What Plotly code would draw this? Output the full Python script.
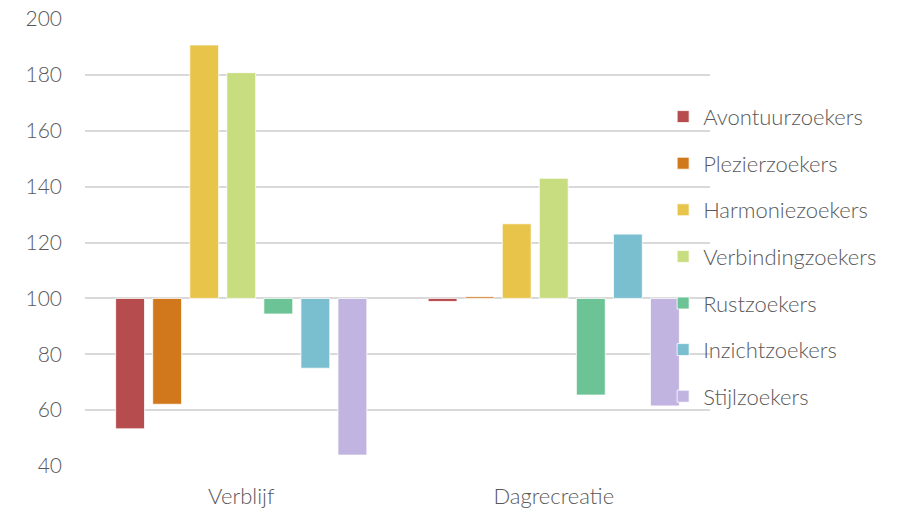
import plotly.graph_objects as go

categories = ["Verblijf", "Dagrecreatie"]
segments = ["Avontuurzoekers", "Plezierzoekers", "Harmoniezoekers", "Verbindingzoekers",
            "Rustzoekers", "Inzichtzoekers", "Stijlzoekers"]
verblijf = [53.3, 62.1, 190.7, 180.8, 94.4, 75.0, 43.9]
dagrecreatie = [98.9, 100.6, 126.7, 143.0, 65.4, 123.0, 61.5]
colors = ["#b64c4e", "#d2781c", "#e8c44a", "#c8dc80", "#6cc396", "#7abfd0", "#c2b4e0"]
y_ticks = [40, 60, 80, 100, 120, 140, 160, 180, 200]
baseline = 100

font_family = "Source Sans Pro, Lato, Open Sans, sans-serif"
text_color = "#595959"

fig = go.Figure()
for i, name in enumerate(segments):
    vals = [verblijf[i], dagrecreatie[i]]
    fig.add_trace(go.Bar(
        x=categories,
        y=[v - baseline for v in vals],
        base=baseline,
        name=name,
        legendgroup=name,
        marker=dict(color=colors[i], line=dict(color="white", width=0.8)),
    ))

fig.update_layout(
    width=904, height=512,
    margin=dict(l=85, r=194, t=19, b=46),
    paper_bgcolor="white", plot_bgcolor="white",
    barmode="group", bargap=0.17, bargroupgap=0.22,
    font=dict(family=font_family, size=22, color=text_color, weight=300),
    legend=dict(
        x=0.925, y=0.468, xanchor="left", yanchor="middle",
        traceorder="grouped", tracegroupgap=15,
        font=dict(size=22, color=text_color, weight=300),
        itemwidth=30, bgcolor="rgba(255,255,255,0)",
    ),
    xaxis=dict(showline=False, ticks="", automargin=False, ticklabelstandoff=15,
               tickfont=dict(size=22, color=text_color)),
    yaxis=dict(
        range=[40, 200], tickvals=y_ticks, showgrid=True, gridcolor="#d9d9d9",
        gridwidth=1.5, zeroline=False, showline=False, ticks="", automargin=False,
        tickfont=dict(size=21, color=text_color), ticklabelstandoff=22,
    ),
)

fig.write_html("out.html")
